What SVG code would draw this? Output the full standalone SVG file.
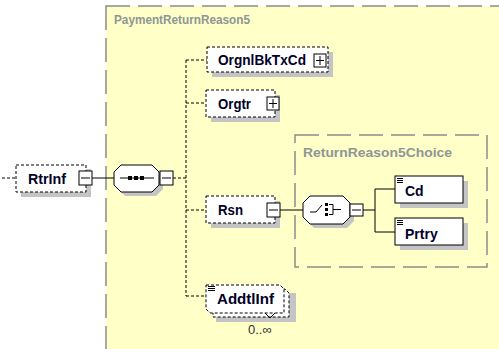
<svg xmlns="http://www.w3.org/2000/svg" width="499" height="349" viewBox="0 0 499 349">
<defs>
<style>
.grp{fill:#FFFFC8;stroke:#8C8C8C;stroke-width:1.5;stroke-dasharray:24 8}
.glabel{font-family:"Liberation Sans",Arial,sans-serif;font-size:13px;font-weight:bold;fill:#8E9696}
.sh{fill:#C4C4C4}
.opt{fill:#fff;stroke:#000;stroke-width:1;stroke-dasharray:3 2}
.req{fill:#fff;stroke:#000;stroke-width:1}
.t{font-family:"Liberation Sans",Arial,sans-serif;font-size:14px;font-weight:bold;fill:#000028}
.btn{fill:#fff;stroke:#000;stroke-width:1}
.ln{stroke:#000;stroke-width:1;fill:none}
.dl{stroke:#000;stroke-width:1;fill:none;stroke-dasharray:3 2}
.small{font-family:"Liberation Sans",Arial,sans-serif;font-size:13px;fill:#333}
</style>
</defs>
<rect width="499" height="349" fill="#fff"/>
<g id="PaymentReturnReason5">
<rect class="grp" x="106" y="6" width="420" height="360"/>
<text class="glabel" x="114" y="24" textLength="136" lengthAdjust="spacingAndGlyphs">PaymentReturnReason5</text>
</g>
<g id="ReturnReason5Choice">
<rect class="grp" x="295" y="135" width="192" height="132"/>
<text class="glabel" x="303" y="157" textLength="149" lengthAdjust="spacingAndGlyphs">ReturnReason5Choice</text>
</g>
<g id="connectors">
<line class="dl" x1="2" y1="178" x2="16" y2="178"/>
<line class="ln" x1="92" y1="178" x2="114" y2="178"/>
<line class="dl" x1="173" y1="178" x2="186" y2="178"/>
<line class="dl" x1="186" y1="60" x2="186" y2="296"/>
<line class="dl" x1="186" y1="60" x2="207" y2="60"/>
<line class="dl" x1="186" y1="103" x2="206" y2="103"/>
<line class="dl" x1="186" y1="210" x2="206" y2="210"/>
<line class="dl" x1="186" y1="296" x2="206" y2="296"/>
<line class="ln" x1="280" y1="210" x2="303" y2="210"/>
<polyline class="ln" points="363,210 375,210"/>
<polyline class="ln" points="395,189 375,189 375,232 395,232"/>
</g>
<g id="RtrInf">
<rect class="sh" x="21" y="169" width="70" height="28"/>
<rect class="opt" x="16" y="165" width="70" height="27"/>
<text class="t" x="28" y="184" textLength="38" lengthAdjust="spacingAndGlyphs">RtrInf</text>
<rect class="btn" x="79" y="171" width="13" height="14"/>
<line class="ln" x1="81" y1="178" x2="90" y2="178"/>
</g>
<g id="sequence">
<polygon class="sh" points="125,169 156,169 163,176 163,189 156,196 125,196 118,189 118,176"/>
<polygon class="req" points="121,165 152,165 159,172 159,185 152,192 121,192 114,185 114,172"/>
<line class="ln" x1="120" y1="178" x2="154" y2="178"/>
<rect x="128" y="176" width="4" height="4" fill="#000"/>
<rect x="134" y="176" width="4" height="4" fill="#000"/>
<rect x="140" y="176" width="4" height="4" fill="#000"/>
<rect class="btn" x="160" y="171" width="13" height="14"/>
<line class="ln" x1="162" y1="178" x2="171" y2="178"/>
</g>
<g id="OrgnlBkTxCd">
<rect class="sh" x="212" y="52" width="121" height="25"/>
<rect class="opt" x="207" y="47" width="121" height="25"/>
<text class="t" x="218" y="65" textLength="88" lengthAdjust="spacingAndGlyphs">OrgnlBkTxCd</text>
<rect class="btn" x="314" y="54" width="12" height="13"/>
<line class="ln" x1="316" y1="60.5" x2="324" y2="60.5"/>
<line class="ln" x1="320" y1="56" x2="320" y2="65"/>
</g>
<g id="Orgtr">
<rect class="sh" x="211" y="95" width="69" height="27"/>
<rect class="opt" x="206" y="90" width="69" height="27"/>
<text class="t" x="218" y="109" textLength="33" lengthAdjust="spacingAndGlyphs">Orgtr</text>
<rect class="btn" x="267" y="97" width="12" height="13"/>
<line class="ln" x1="269" y1="103.5" x2="277" y2="103.5"/>
<line class="ln" x1="273" y1="99" x2="273" y2="108"/>
</g>
<g id="Rsn">
<rect class="sh" x="211" y="201" width="69" height="27"/>
<rect class="opt" x="206" y="196" width="69" height="27"/>
<text class="t" x="218" y="215" textLength="25" lengthAdjust="spacingAndGlyphs">Rsn</text>
<rect class="btn" x="267" y="203" width="13" height="14"/>
<line class="ln" x1="269" y1="210" x2="278" y2="210"/>
</g>
<g id="choice">
<polygon class="sh" points="314,200 347,200 354,207 354,221 347,228 314,228 307,221 307,207"/>
<polygon class="req" points="310,196 343,196 350,203 350,217 343,224 310,224 303,217 303,203"/>
<polyline class="ln" points="310,212 316,212 322,205"/>
<rect x="325" y="203" width="3" height="3" fill="#000"/>
<rect x="325" y="208" width="3" height="3" fill="#000"/>
<rect x="325" y="213" width="3" height="3" fill="#000"/>
<polyline class="ln" points="329,204.5 333,204.5 333,214.5 329,214.5"/>
<line class="ln" x1="333" y1="209.5" x2="341" y2="209.5"/>
<rect class="btn" x="350" y="204" width="13" height="12"/>
<line class="ln" x1="352" y1="210" x2="361" y2="210"/>
</g>
<g id="Cd">
<rect class="sh" x="400" y="181" width="68" height="27"/>
<rect class="req" x="395" y="176" width="68" height="27"/>
<g class="ln"><line x1="397" y1="178.5" x2="403" y2="178.5"/><line x1="397" y1="180.5" x2="403" y2="180.5"/><line x1="397" y1="182.5" x2="403" y2="182.5"/></g>
<text class="t" x="405" y="196">Cd</text>
</g>
<g id="Prtry">
<rect class="sh" x="400" y="223" width="68" height="27"/>
<rect class="req" x="395" y="218" width="68" height="27"/>
<g class="ln"><line x1="397" y1="220.5" x2="403" y2="220.5"/><line x1="397" y1="222.5" x2="403" y2="222.5"/><line x1="397" y1="224.5" x2="403" y2="224.5"/></g>
<text class="t" x="405" y="239">Prtry</text>
</g>
<g id="AddtlInf">
<rect class="sh" x="216" y="293" width="80" height="29"/>
<path class="opt" d="M213,289 H285 L289,293 V317 H213 Z"/>
<path class="opt" d="M206,285 H280 L284,289 V313 H210 L206,309 Z"/>
<polyline class="ln" points="265,313 270,318 275,313"/>
<g class="ln"><line x1="208" y1="286.5" x2="215" y2="286.5"/><line x1="208" y1="288.5" x2="215" y2="288.5"/><line x1="208" y1="290.5" x2="215" y2="290.5"/></g>
<text class="t" x="217" y="304" textLength="57" lengthAdjust="spacingAndGlyphs">AddtlInf</text>
<text class="small" x="248" y="334">0..∞</text>
</g>
</svg>
